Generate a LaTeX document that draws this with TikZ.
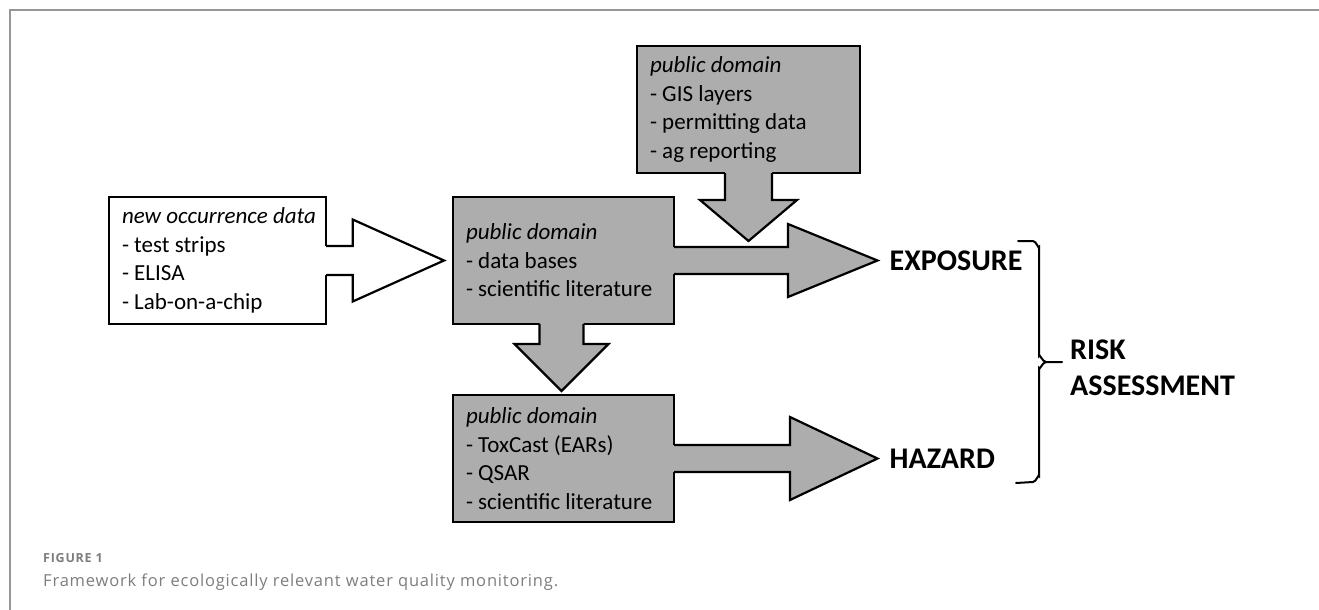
\documentclass[tikz,border=0pt]{standalone}
\usepackage{fontspec}
\setmainfont{Carlito}
\newfontfamily\capfont[LetterSpace=5]{Open Sans}
\newfontfamily\capbold[LetterSpace=6]{Open Sans}
\usetikzlibrary{calc}
\definecolor{boxgray}{RGB}{173,173,173}
\definecolor{framegray}{RGB}{150,150,150}
\definecolor{capgray}{RGB}{125,125,125}
\begin{document}
\begin{tikzpicture}[x=1pt,y=-1pt,
  pbox/.style={draw, line width=2.2pt, fill=boxgray, outer sep=0pt, inner xsep=13pt, inner ysep=0pt,
    minimum height=127pt, align=flush left, font=\fontsize{23}{28.5}\selectfont},
  arrline/.style={draw, line width=2.2pt, line join=miter},
  lab/.style={font=\bfseries\fontsize{30}{36}\selectfont, inner sep=0pt, anchor=west, align=flush left},
  bracel/.style={draw, line width=2pt, line cap=round}]
\useasboundingbox (0,0) rectangle (1319,610);
\draw[framegray, line width=2pt] (10,610) -- (10,10) -- (1319,10);

% boxes
\node[pbox, fill=white, text width=191pt] (b1) at (217.5,260.5)
  {\mbox{\textit{new occurrence data}}\\- test strips\\- ELISA\\- Lab-on-a-chip};
\node[pbox, text width=195pt] (b2) at (563.5,260.5)
  {\textit{public domain}\\- data bases\\- scientific literature};
\node[pbox, text width=197pt] (b3) at (748.5,109.5)
  {\textit{public domain}\\- GIS layers\\- permitting data\\- ag reporting};
\node[pbox, text width=195pt] (b4) at (563.5,458.5)
  {\textit{public domain}\\- ToxCast (EARs)\\- QSAR\\- scientific literature};

% labels
\node[lab] (exp) at (889.5,261) {EXPOSURE};
\node[lab] (haz) at (889.5,459) {HAZARD};
\node[lab] (risk) at (1070,368) {RISK\\ASSESSMENT};

% arrow b1 -> b2 (white)
\begin{scope}[shift={(b1.east)}]
  \fill[white] (-2,-14.5) -- (26.7,-14.5) -- (26.7,-41) -- (118,0) -- (26.7,41) -- (26.7,14.5) -- (-2,14.5) -- cycle;
  \path[arrline] (0,-14.5) -- (26.7,-14.5) -- (26.7,-41) -- (118,0) -- (26.7,41) -- (26.7,14.5) -- (0,14.5);
\end{scope}
% arrow b2 -> exposure
\begin{scope}[shift={(b2.east)}]
  \fill[boxgray] (-2,-13.5) -- (114,-13.5) -- (114,-36.5) -- (203.5,0) -- (114,36.5) -- (114,13.5) -- (-2,13.5) -- cycle;
  \path[arrline] (0,-13.5) -- (114,-13.5) -- (114,-36.5) -- (203.5,0) -- (114,36.5) -- (114,13.5) -- (0,13.5);
\end{scope}
% arrow b3 -> down
\begin{scope}[shift={(b3.south)}]
  \fill[boxgray] (-23.5,-2) -- (-23.5,27) -- (-48.5,27) -- (0,68) -- (48.5,27) -- (23.5,27) -- (23.5,-2) -- cycle;
  \path[arrline] (-23.5,0) -- (-23.5,27) -- (-48.5,27) -- (0,68) -- (48.5,27) -- (23.5,27) -- (23.5,0);
\end{scope}
% arrow b2 -> b4
\begin{scope}[shift={($(b2.south)+(-2,0)$)}]
  \fill[boxgray] (-22,-2) -- (-22,20) -- (-47,20) -- (0,67) -- (47,20) -- (22,20) -- (22,-2) -- cycle;
  \path[arrline] (-22,0) -- (-22,20) -- (-47,20) -- (0,67) -- (47,20) -- (22,20) -- (22,0);
\end{scope}
% arrow b4 -> hazard
\begin{scope}[shift={(b4.east)}]
  \fill[boxgray] (-2,-13.5) -- (116,-13.5) -- (116,-41.5) -- (203.5,0) -- (116,41.5) -- (116,13.5) -- (-2,13.5) -- cycle;
  \path[arrline] (0,-13.5) -- (116,-13.5) -- (116,-41.5) -- (203.5,0) -- (116,41.5) -- (116,13.5) -- (0,13.5);
\end{scope}

% brace
\path[bracel] (1018,241) -- (1033,241) to[out=0,in=-90] (1039,247) -- (1039,356)
  to[out=90,in=180] (1046,362) -- (1062,362);
\path[bracel] (1046,362) to[out=180,in=-90] (1039,368) -- (1039,476)
  to[out=90,in=0] (1033,482) -- (1016,483);

% caption
\node[font=\capbold\bfseries\fontsize{12.5}{16}\selectfont, text=capgray, anchor=base west, inner sep=0pt] (fig) at (43,562) {FIGURE 1};
\node[font=\capfont\fontsize{16.5}{20}\selectfont, text=capgray, anchor=base west, inner sep=0pt] (cap) at (43,586) {Framework for ecologically relevant water quality monitoring.};
\end{tikzpicture}
\end{document}
